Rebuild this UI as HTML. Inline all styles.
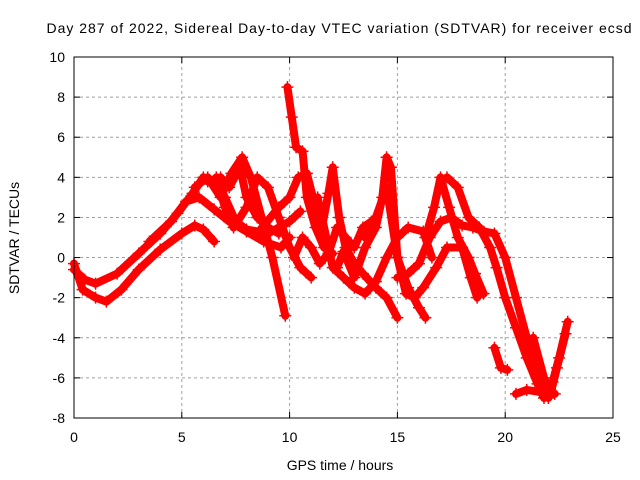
<!DOCTYPE html>
<html><head><meta charset="utf-8"><style>
body{margin:0;background:#fff}
svg{display:block;font-family:"Liberation Sans",sans-serif}
</style></head><body>
<svg id="chart" width="640" height="480" viewBox="0 0 640 480" xmlns="http://www.w3.org/2000/svg">
<rect width="640" height="480" fill="#fff"/>
<text x="339" y="33" font-size="14" text-anchor="middle" textLength="585">Day 287 of 2022, Sidereal Day-to-day VTEC variation (SDTVAR) for receiver ecsd</text>
<g id="grid"></g>
<g id="series"></g>
<rect x="74" y="57" width="539" height="361" fill="none" stroke="#000" stroke-width="1"/>
<g id="axes" font-size="14"></g>
<text x="340" y="470" font-size="14" text-anchor="middle">GPS time / hours</text>
<text transform="translate(19,238) rotate(-90)" font-size="14" text-anchor="middle">SDTVAR / TECUs</text>
</svg>
<script>
const xTicks=[0,5,10,15,20,25];
const yTicks=[-8,-6,-4,-2,0,2,4,6,8,10];
const trackA=[[0,-0.3],[0.4,-1.6],[1,-2.0],[1.5,-2.2],[2.2,-1.6],[3,-0.6],[4,0.4],[5,1.2],[5.6,1.6],[6,1.4],[6.5,0.8]];
const trackB=[[0,-0.6],[0.5,-1.1],[1,-1.3],[2,-0.8],[3,0.2],[4,1.2],[4.8,2.2],[5.5,3.2],[6,4],[6.6,3.8],[7,3],[7.5,1.8],[8,1.4],[9,1.2],[10,1.8],[10.5,2.3]];
const trackC=[[3.5,0.8],[4.5,1.8],[5.2,2.8],[5.8,3],[6.5,2.4],[7.2,1.8],[8,1.3],[8.8,0.8],[9.6,0.5],[10,1]];
const trackD=[[5.6,3.5],[6.2,4],[6.8,3],[7.3,4.2],[7.8,5],[8.2,4],[8.7,2],[9.2,0],[9.8,-2.9]];
const trackE=[[6.6,4],[7,2.5],[7.4,1.5],[8,2.5],[8.5,4],[9,3.5],[9.5,2],[10,0.5],[10.5,-0.5],[11,-1]];
const trackF=[[9.9,8.5],[10.1,7],[10.3,5.5],[10.6,5.3],[10.8,3],[11.2,1.5],[11.6,0.5],[12,0.2]];
const trackG=[[8.5,1.2],[9.5,2.5],[10,3],[10.4,4],[10.8,4.2],[11.2,2.5],[11.5,1.5],[11.8,3.2],[12,4.5],[12.3,2],[12.6,0.5],[13,-0.3],[13.4,-0.8],[14,-1.5],[14.5,-2],[15,-3]];
const trackH=[[11.3,3],[11.7,1],[12,-0.5],[12.5,-1],[13,-1.5],[13.5,-1.8],[14,-1.2],[14.5,0],[15,1],[15.5,1.5],[16.2,1.3],[16.6,0]];
const trackI=[[12.2,-0.5],[12.5,0.3],[13,-1],[13.5,0.5],[14,1.5],[14.3,3],[14.5,5],[14.7,4.5],[15,0],[15.5,-1.5],[16,-2.5],[16.3,-3]];
const trackJ=[[13.5,1],[14,2],[14.5,3.5],[15,0],[15.4,-1.8],[15.8,-2],[16.2,-1.5],[16.8,-0.5],[17.3,0.5],[18,0.5],[18.4,-1],[18.7,-2]];
const trackK=[[15,-1],[15.5,-0.8],[16,-0.3],[16.5,1],[17,1.8],[17.5,2],[18,1.6],[18.5,1.5],[19,1.3],[19.5,1.2],[20,0],[20.5,-2],[21,-4],[21.5,-5.5],[22,-6.5],[22.3,-6.8]];
const trackL=[[16.3,1],[16.7,2.5],[17,4],[17.4,2.5],[17.8,1],[18.3,0],[18.6,-0.8],[19.0,-1.8]];
const trackM=[[17.3,4],[17.8,3.5],[18.3,2],[18.8,1.5],[19.3,0.5],[19.6,-0.5],[20,-2],[20.5,-3.5],[21,-5],[21.5,-6.3],[21.8,-7]];
const trackN=[[19.5,-4.5],[19.8,-5.5],[20.1,-5.6]];
const trackO=[[20.5,-6.8],[21,-6.6],[21.6,-6.7],[22,-7],[22.2,-6.2],[22.5,-5],[22.9,-3.2]];
const trackP=[[21.3,-4],[21.8,-6],[22.1,-6.8],[22.4,-5.5],[22.8,-3.8]];
const trackQ=[[10.2,0],[10.6,1],[11,0.5],[11.4,-0.3],[11.8,0.2],[12.2,1.5],[12.6,1],[13,0.5],[13.4,1.5],[13.8,1.8]];
const trackR=[[6.2,3.8],[6.8,4],[7.2,3.5],[7.7,4.5],[8,3],[8.5,2],[9,1.5],[9.5,1.2]];
const tracks=[trackA,trackB,trackC,trackD,trackE,trackF,trackG,trackH,trackI,trackJ,trackK,trackL,trackM,trackN,trackO,trackP,trackQ,trackR];

const X0=74,X1=613,Y0=418,Y1=57;
const xs=v=>X0+(v-0)/(25-0)*(X1-X0);
const ys=v=>Y0-(v+8)/(18)*(Y0-Y1);
const NS="http://www.w3.org/2000/svg";
const grid=document.getElementById('grid'),axes=document.getElementById('axes'),ser=document.getElementById('series');
function mk(tag,attrs,parent){const e=document.createElementNS(NS,tag);for(const k in attrs)e.setAttribute(k,attrs[k]);parent.appendChild(e);return e;}
xTicks.forEach(t=>{
  const x=xs(t);
  if(t>0&&t<25){const g=mk('line',{x1:x,x2:x,y1:Y0,y2:Y1,stroke:'#a0a0a0','stroke-dasharray':'3,3'},grid);
  
  }
  mk('line',{x1:x,x2:x,y1:Y0,y2:Y0-6,stroke:'#000'},axes);
  mk('line',{x1:x,x2:x,y1:Y1,y2:Y1+6,stroke:'#000'},axes);
  const l=mk('text',{x:x,y:Y0+24,'text-anchor':'middle'},axes);l.textContent=t;
  
  
});
yTicks.forEach(t=>{
  const y=ys(t);
  if(t>-8&&t<10){const g=mk('line',{x1:X0,x2:X1,y1:y,y2:y,stroke:'#a0a0a0','stroke-dasharray':'3,3'},grid);
  
  }
  mk('line',{x1:X0,x2:X0+6,y1:y,y2:y,stroke:'#000'},axes);
  mk('line',{x1:X1,x2:X1-6,y1:y,y2:y,stroke:'#000'},axes);
  const l=mk('text',{x:X0-9,y:y+5,'text-anchor':'end'},axes);l.textContent=t;
  
  
});
tracks.forEach(tr=>{
  const p=mk('polyline',{points:tr.map(d=>xs(d[0])+','+ys(d[1])).join(' '),fill:'none',stroke:'#f00','stroke-width':8,'stroke-linejoin':'round','stroke-linecap':'round'},ser);
  
  
  tr.forEach(d=>{
    const x=xs(d[0]),y=ys(d[1]);
    const m=mk('path',{d:`M${x-6},${y}H${x+6}M${x},${y-6}V${y+6}`,stroke:'#f00','stroke-width':1.5},ser);
    
    
  });
});
</script>
</body></html>
